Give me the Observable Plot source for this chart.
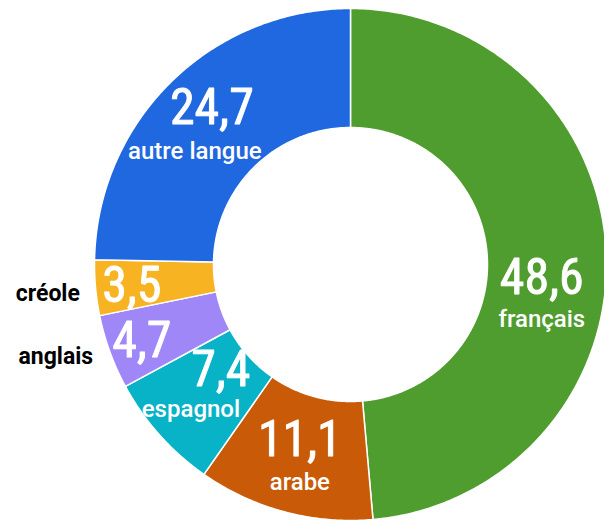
<!DOCTYPE html>
<html>
<head>
<meta charset="utf-8">
<script src="https://cdn.jsdelivr.net/npm/d3@7"></script>
<script src="https://cdn.jsdelivr.net/npm/@observablehq/plot@0.6"></script>
<style>
  html, body { margin: 0; padding: 0; background: #fff; }
  #chart svg { display: block; }
</style>
</head>
<body>
<div id="chart"></div>
<script>
// ---- data ----
const categories = ["français", "arabe", "espagnol", "anglais", "créole", "autre langue"];
const values = [48.6, 11.1, 7.4, 4.7, 3.5, 24.7];
const colors = ["#4f9d2e", "#c85a08", "#08b3c8", "#9f87f7", "#f8b323", "#1f68e0"];
const outsideNames = ["anglais", "créole"];

// ---- geometry (chart units = pixels, centered on the ring) ----
const R = 256, r0 = 137, rMid = (R + r0) / 2;
const total = d3.sum(values);
const slices = [];
let acc = 0;
categories.forEach((c, i) => {
  const a0 = acc / total * 2 * Math.PI;
  acc += values[i];
  const a1 = acc / total * 2 * Math.PI;
  slices.push({cat: c, value: values[i], a0, a1});
});

const pts = [];
for (const s of slices) {
  const n = Math.max(4, Math.ceil((s.a1 - s.a0) / (Math.PI / 360)));
  for (let k = 0; k <= n; k++) {
    const a = s.a0 + (s.a1 - s.a0) * k / n;
    pts.push({cat: s.cat, x: R * Math.sin(a), y: R * Math.cos(a)});
  }
  for (let k = n; k >= 0; k--) {
    const a = s.a0 + (s.a1 - s.a0) * k / n;
    pts.push({cat: s.cat, x: r0 * Math.sin(a), y: r0 * Math.cos(a)});
  }
}

// label nudges relative to arc centroid (pixels: right, down)
const nudge = {
  "français":     {num: [-5, 22],  name: [-5, 63]},
  "arabe":        {num: [0, -14],  name: [0, 28]},
  "espagnol":     {num: [17, -25], name: [-13, 14]},
  "anglais":      {num: [-24, 9],  name: [-110, 25]},
  "créole":       {num: [-23, 4],  name: [-107, 11]},
  "autre langue": {num: [-1, -16], name: [-18, 27]}
};

const numLabels = [], inNames = [], outNames = [];
for (const s of slices) {
  const m = (s.a0 + s.a1) / 2;
  const cx = rMid * Math.sin(m), cy = rMid * Math.cos(m);
  const nd = nudge[s.cat];
  numLabels.push({text: s.value.toFixed(1).replace(".", ","), x: cx + nd.num[0], y: cy - nd.num[1]});
  const nm = {text: s.cat, x: cx + nd.name[0], y: cy - nd.name[1]};
  (outsideNames.includes(s.cat) ? outNames : inNames).push(nm);
}

const chart = Plot.plot({
  width: 604,
  height: 520,
  margin: 0,
  x: {domain: [-350, 254], axis: null},
  y: {domain: [-256, 264], axis: null},
  color: {domain: categories, range: colors},
  marks: [
    Plot.line(pts, {x: "x", y: "y", z: "cat", fill: "cat", stroke: "white", strokeWidth: 1.5, curve: "linear-closed"}),
    Plot.text(numLabels, {x: "x", y: "y", text: "text", fill: "white", stroke: "white", strokeWidth: 0.9, fontSize: 50,
      fontFamily: "'Liberation Sans Narrow', 'Roboto Condensed', 'DejaVu Sans Condensed', sans-serif"}),
    Plot.text(inNames, {x: "x", y: "y", text: "text", fill: "white", fontSize: 24, fontWeight: 500,
      fontFamily: "Roboto, 'Liberation Sans', sans-serif"}),
    Plot.text(outNames, {x: "x", y: "y", text: "text", fill: "black", fontSize: 23, fontWeight: "bold",
      fontFamily: "Roboto, 'Liberation Sans', sans-serif"})
  ]
});
document.getElementById("chart").appendChild(chart);
</script>
</body>
</html>
